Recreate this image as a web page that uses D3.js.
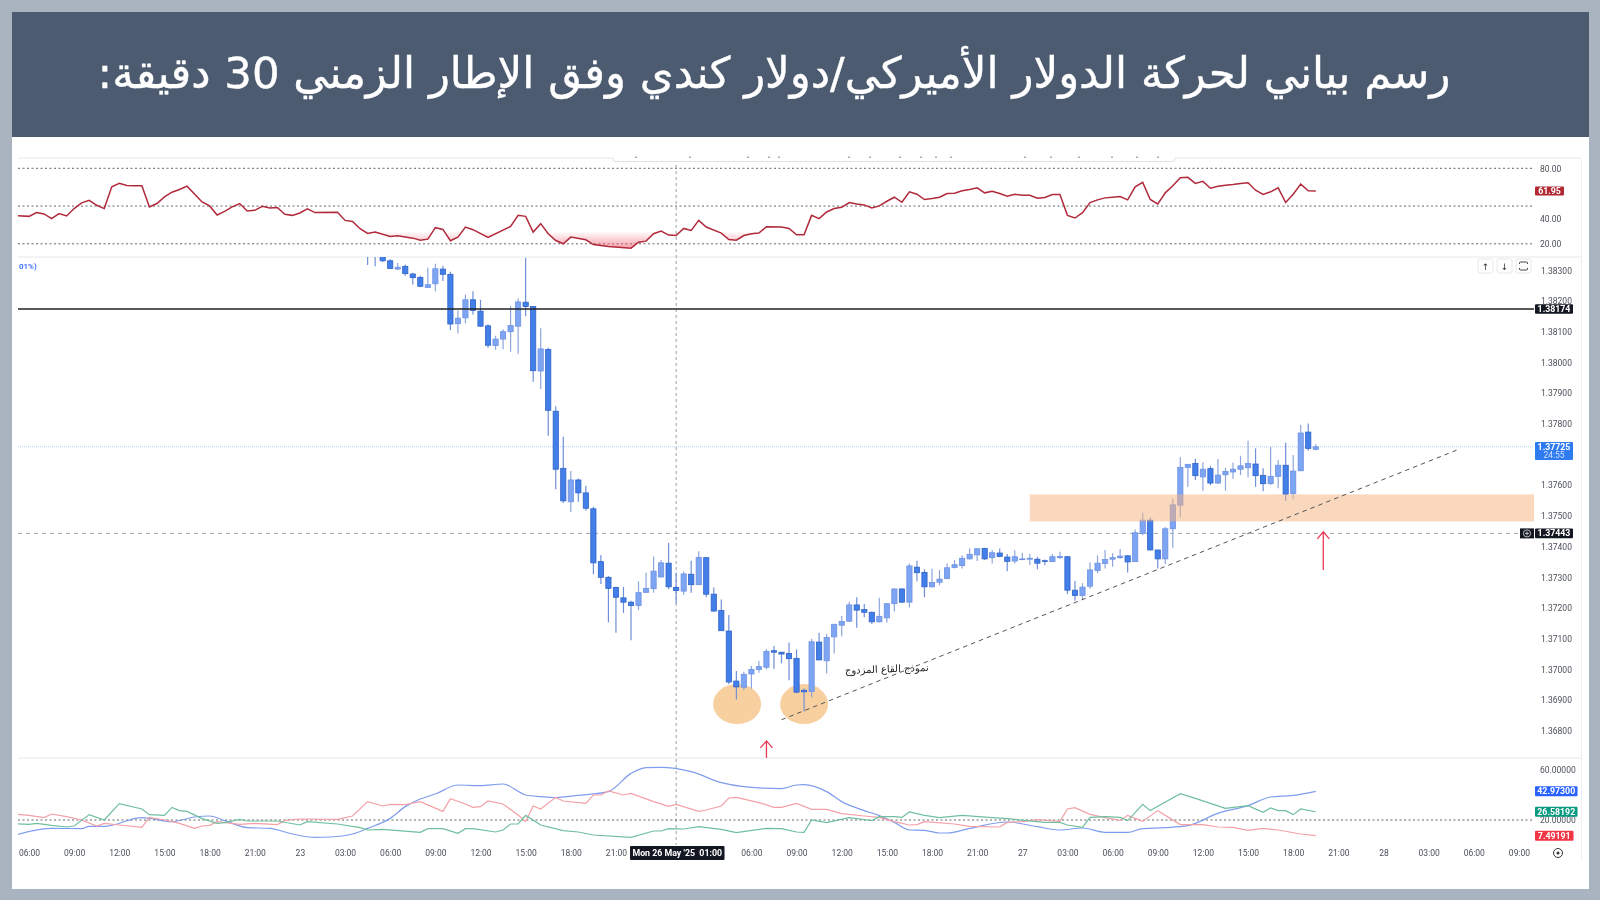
<!DOCTYPE html>
<html lang="ar"><head><meta charset="utf-8">
<script src="https://cdn.jsdelivr.net/npm/d3@7/dist/d3.min.js"></script>
<style>html,body{margin:0;padding:0;background:#aab4c0}svg{display:block;filter:blur(0.35px)}</style>
</head><body><svg id="c" width="1600" height="900"></svg>
<script>
const titleText = "رسم بياني لحركة الدولار الأميركي/دولار كندي وفق الإطار الزمني 30 دقيقة:";
const patternText = "نموذج القاع المزدوج";
const firstBar = 45;
// Prices in units of 0.00001, bar 45 onward
const opens = [138360,138355,138345,138331,138304,138313,138288,138277,138244,138256,138304,138287,138126,138145,138204,138167,138119,138055,138076,138100,138118,138196,138182,137972,138042,137841,137655,137546,137617,137575,137523,137351,137300,137267,137233,137219,137208,137251,137263,137301,137346,137267,137255,137310,137276,137364,137245,137192,137125,136962,136942,136985,137000,137007,137061,137056,137052,137036,136932,136928,137089,137028,137106,137144,137157,137210,137195,137186,137155,137168,137214,137262,137219,137333,137316,137269,137284,137296,137332,137338,137360,137373,137394,137364,137379,137366,137353,137358,137359,137359,137354,137351,137364,137367,137258,137241,137271,137322,137345,137359,137364,137370,137351,137443,137486,137389,137360,137458,137535,137658,137671,137627,137654,137607,137634,137643,137652,137657,137669,137632,137605,137629,137665,137573,137647,137773,137717];
const closes = [138350,138348,138331,138306,138310,138289,138276,138248,138253,138305,138287,138125,138144,138204,138169,138118,138056,138076,138100,138120,138197,138182,137973,138044,137844,137652,137549,137617,137575,137525,137347,137300,137264,137235,137219,137208,137250,137264,137320,137347,137269,137257,137311,137276,137365,137245,137190,137126,136959,136943,136984,137000,137009,137059,137056,137050,137035,136926,136927,137090,137031,137104,137147,137156,137210,137193,137186,137155,137173,137214,137262,137219,137337,137315,137269,137283,137294,137331,137341,137362,137375,137393,137360,137380,137368,137352,137367,137360,137362,137346,137352,137367,137368,137258,137241,137268,137324,137346,137358,137364,137369,137350,137445,137486,137389,137360,137458,137536,137658,137668,137631,137652,137607,137633,137645,137652,137663,137671,137631,137605,137629,137665,137571,137646,137770,137720,137725];
const highs = [138380,138370,138350,138336,138324,138319,138292,138282,138308,138321,138315,138295,138169,138221,138232,138204,138124,138087,138108,138184,138208,138341,138183,138111,138048,137857,137758,137646,137622,137598,137530,137373,137304,137269,137269,137224,137287,137315,137368,137356,137412,137315,137319,137354,137385,137365,137267,137228,137177,136995,136992,137011,137027,137066,137076,137057,137088,137065,136938,137100,137119,137115,137148,137174,137220,137235,137213,137189,137233,137215,137264,137264,137345,137354,137326,137328,137324,137345,137356,137372,137394,137394,137396,137389,137394,137376,137388,137380,137376,137367,137358,137376,137383,137369,137288,137281,137349,137371,137389,137378,137392,137372,137456,137510,137495,137389,137464,137557,137691,137669,137686,137675,137663,137685,137657,137674,137696,137745,137720,137655,137725,137682,137738,137698,137796,137801,137733];
const lows = [138317,138313,138327,138304,138300,138282,138254,138245,138242,138232,138265,138105,138094,138127,138156,138116,138048,138041,138043,138035,138028,138150,137937,137913,137761,137587,137542,137513,137546,137517,137310,137278,137153,137119,137184,137095,137193,137250,137250,137300,137261,137215,137243,137250,137275,137235,137189,137126,136952,136902,136933,136938,136989,137000,137002,137020,136965,136922,136863,136909,137030,136987,137052,137108,137155,137136,137170,137148,137153,137152,137189,137217,137202,137287,137235,137267,137274,137294,137329,137329,137358,137353,137356,137345,137365,137320,137345,137356,137340,137326,137339,137350,137360,137245,137224,137226,137263,137313,137329,137334,137360,137316,137350,137437,137388,137329,137343,137396,137495,137595,137617,137582,137600,137604,137582,137621,137633,137625,137595,137580,137601,137590,137549,137554,137647,137712,137714];

const rsiBars = [-2,0,1,2,3,4,5,6,7,8,9,10,11,12,13,14,15,16,17,18,19,20,21,23,24,25,26,27,28,29,30,31,32,33,34,35,36,37,38,41,42,43,44,45,46,48,49,51,52,53,54,55,56,57,58,59,61,64,65,66,67,68,69,70,71,72,74,75,77,80,81,82,83,84,85,86,87,88,89,90,92,93,94,95,96,97,98,100,101,102,103,104,105,106,107,108,109,110,111,112,113,114,115,116,117,118,119,120,121,122,123,124,125,126,127,128,129,130,131,132,133,134,135,136,137,138,139,140,141,142,143,144,145,146,147,148,149,150,151,152,153,154,155,156,157,158,159,160,161,162,163,164,165,166,167,168,169,170,171];
const rsiVals = [42.6,41.8,44.8,43.7,40,44,42.1,48,52.5,54.6,50.6,48,65.3,68,66.4,66.2,66.1,49.3,52,57.3,61,63.2,65.8,53.3,50.1,42.9,45.8,49.3,52,46.1,46.6,49.8,48.5,48.8,43.4,42.6,44.5,47.7,44.8,45,38.6,37.8,32,28.2,29.3,25.8,26.4,24.5,22.9,23.7,32.8,31.4,22.4,25.3,33.3,31.2,25,33.8,42.6,41.8,29.3,36,28,22.6,20,25.3,23.2,19.4,17.8,16.5,21.3,22.1,28,30.1,26.9,26.6,32.2,30.6,38.6,33.3,28.5,23.4,22.9,26.6,28,28.5,33.6,33.3,32.2,27.2,27.2,42.6,40,45.3,48,49,52.8,51.7,50.9,48.5,50.1,53.8,57,53,61.3,59.4,55.2,56,57,60,60.2,62.1,63.2,64.5,60.5,61.8,60,57.8,59.4,58.6,58.6,56.2,56.8,59.2,59.2,42.6,40.5,44.8,52.8,54.9,56.5,57,57.6,54.9,65.3,68.8,55.2,51.7,60.5,66.1,72.5,72.8,68,69.6,64.2,65.8,66.6,67.2,68,68.5,62.6,59.2,61.3,64.5,52.8,59.4,67.4,62.1,62];

const adxBars = [-2,3,7,8,10,15,19,22,24,26,29,32,35,38,40,43,45,48,50,52,54,57,60,63,66,68,70,73,77,80,82,84,88,92,95,100,102,103,106,108,111,113,115,117,119,121,122,125,130,134,137,140,143,146,148,151,154,158,162,165,168,171];
const adxVals = [7.7,13.3,13.1,14.9,14.9,21.9,18.7,22.4,23.2,19.5,13.9,13.3,8.8,6.1,6.4,8.8,13.3,21.3,30.7,36.8,40.8,48,47.5,48.8,40,38.7,37.9,39.7,42.7,57.3,61.9,62.1,58.7,49.9,46.7,45.1,48,48.3,42.7,34.7,27.5,23.5,18.1,12,11.7,9.6,9.6,13.3,18.4,14.7,12,13.6,10.1,10.1,13.1,13.9,15.5,25.3,31.5,38.4,39.7,42.97];
const minusBars = [-2,0,2,3,5,7,9,10,12,15,16,18,20,22,23,24,25,28,30,33,34,36,41,43,45,47,48,50,52,55,56,58,59,60,61,63,65,66,67,68,70,71,74,75,76,77,79,80,83,85,86,89,90,92,93,94,97,99,100,102,104,106,108,111,113,115,117,118,119,123,125,129,130,132,134,137,138,139,141,143,145,146,148,150,153,156,158,160,162,164,166,169,171];
const minusVals = [24.8,23.7,21.9,24.8,22.7,20,15.2,17.3,16,14.1,22.1,20,17.3,13.3,15.2,15.7,18.7,16.5,17.3,16.3,19.7,20.8,20.5,23.2,34.7,31.2,32.5,32.3,34.7,26.9,37.1,32.8,30.1,30.7,35.2,32.8,24,18.7,31.2,28.8,38.1,35.2,33.3,40,40,43.2,40,41.3,34.7,30.9,32.5,26.9,28,31.2,37.6,38.1,33.9,30.1,30.1,33.3,28.5,28.5,25.1,23.2,22.1,18.7,16,16.3,18.7,16.8,14.9,14.4,18.1,18.7,20.3,18.9,28.8,29.9,24.5,21.9,19.7,23.7,18.9,27.5,16.3,16.3,14.4,14.1,11.7,13.3,12,8.8,7.49];
const plusBars = [-2,0,1,3,5,6,8,10,12,15,16,18,19,20,21,23,25,26,28,29,33,36,37,41,44,45,47,52,53,55,57,58,59,62,63,64,65,66,68,71,73,75,80,83,84,85,87,89,92,94,98,100,102,103,104,106,109,112,113,115,116,117,119,121,124,128,130,135,137,138,140,141,143,145,146,148,149,153,155,157,159,162,164,165,166,167,168,169,171];
const plusVals = [17.1,16.5,17.3,15.7,14.4,15.2,24.3,20,33.1,28.8,24.3,23.7,30.1,27.5,26.9,21.1,17.3,17.9,20.5,19.2,19.2,16,18.7,16.8,13.9,12,12.5,10.1,13.1,13.1,9.3,13.1,13.1,10.4,12,16.8,16.8,23.7,16,11.5,10.4,8,6.1,11.2,11.2,13.1,12.8,14.7,12.5,9.9,13.3,13.1,10.4,10.1,20,17.9,21.9,19.5,22.7,22.7,22.1,26.4,23.7,21.9,23.7,21.9,21.1,18.1,18.1,16,14.1,22.1,22.7,22.1,19.5,32.5,27.5,41.1,37.3,33.3,29.3,31.5,26.1,29.6,27.5,27.5,24.3,28.8,26.58];

const priceTicks = [138300,138200,138100,138000,137900,137800,137600,137500,137400,137300,137200,137100,137000,136900,136800];
const rsiLevels = [80,50,20];
const rsiTicks = [80,40,20];
const dmiTicks = [60,20];
const timeBars = [0,6,12,18,24,30,36,42,48,54,60,66,72,78,96,102,108,114,120,126,132,138,144,150,156,162,168,174,180,186,192,198];
const timeLabels = ["06:00","09:00","12:00","15:00","18:00","21:00","23","03:00","06:00","09:00","12:00","15:00","18:00","21:00","06:00","09:00","12:00","15:00","18:00","21:00","27","03:00","06:00","09:00","12:00","15:00","18:00","21:00","28","03:00","06:00","09:00"];
const crossBar = 86, crossLabel = "Mon 26 May '25  01:00";
const blackLevel = 138174, lastPrice = 137725, dashLevel = 137443, countdown = "24:55";
const zoneBars = [133, 200], zonePrices = [137570, 137482];
const trendBars = [100, 189.7], trendPrices = [136836, 137714];
const circleBars = [94.1, 103], circlePrices = [136887, 136887];
const arrowBars = [98, 172], arrowFrom = [136711, 137324], arrowTo = [136767, 137448];
const patternBar = 114, patternPrice = 137000;
const rsiLast = 61.95;
const dmiBadges = [["42.97300", 42.97, "#2962ff"], ["26.58192", 26.58, "#089981"], ["7.49191", 7.49, "#f23645"]];
const toolbarSpecks = [635,689,747,768,778,848,869,899,920,935,950,1024,1050,1078,1111,1136,1157];

const W = 1600, H = 900, L = 18, R = 1534;
const ui = "Roboto, 'Noto Sans', sans-serif", ar = "'DejaVu Sans', sans-serif";
const x = d3.scaleLinear().domain([0, 6]).range([29, 74.15]);
const y = d3.scaleLinear().domain([138300, 137400]).range([270.3, 546.6]);
const yR = d3.scaleLinear().domain([80, 20]).range([168.3, 243.8]);
const yD = d3.scaleLinear().domain([60, 20]).range([770, 820]);
const svg = d3.select("#c");

svg.append("rect").attr("width", W).attr("height", H).attr("fill", "#aab4c0");
svg.append("rect").attr("x", 12).attr("y", 137).attr("width", 1577).attr("height", 752).attr("fill", "#fff");
svg.append("rect").attr("x", 12).attr("y", 12).attr("width", 1577).attr("height", 125).attr("fill", "#4d5b71");
svg.append("text").attr("x", 774).attr("y", 88).attr("text-anchor", "middle").attr("direction", "rtl")
  .attr("font-family", ar).attr("font-size", 43.4).attr("fill", "#fff").attr("stroke", "#fff").attr("stroke-width", .4).text(titleText);

const defs = svg.append("defs");
defs.append("clipPath").attr("id", "main").append("rect").attr("x", L).attr("y", 257).attr("width", R - L).attr("height", 501);
defs.append("clipPath").attr("id", "full").append("rect").attr("x", L).attr("y", 160).attr("width", R - L).attr("height", 680);
defs.append("clipPath").attr("id", "os").append("rect").attr("x", L).attr("y", yR(30)).attr("width", R - L).attr("height", 40);
const gr = defs.append("linearGradient").attr("id", "osg").attr("gradientUnits", "userSpaceOnUse").attr("x1", 0).attr("x2", 0).attr("y1", yR(30)).attr("y2", yR(18));
gr.append("stop").attr("offset", 0).attr("stop-color", "#f0566b").attr("stop-opacity", 0);
gr.append("stop").attr("offset", 1).attr("stop-color", "#f0566b").attr("stop-opacity", .5);

// pane separators and the cut-off toolbar at the top of the RSI pane
[158, 257, 758].forEach(v => svg.append("line").attr("x1", L).attr("x2", 1581).attr("y1", v).attr("y2", v).attr("stroke", "#e6e8ec"));
svg.append("line").attr("x1", 1581.5).attr("x2", 1581.5).attr("y1", 158).attr("y2", 860).attr("stroke", "#eceef1");
svg.append("rect").attr("x", 613).attr("y", 156).attr("width", 562).attr("height", 5).attr("fill", "#fff");
svg.append("path").attr("fill", "none").attr("stroke", "#dfe1e5").attr("d", "M613,158v1.5q0,2 2,2H1173q2,0 2,-2V158");
svg.selectAll(".sp").data(toolbarSpecks).join("rect").attr("x", d => d).attr("y", 156.5).attr("width", 2).attr("height", 1.5).attr("fill", "#a8abb2");

// RSI pane
svg.selectAll(".rl").data(rsiLevels).join("line").attr("x1", L).attr("x2", R - 2).attr("y1", d => yR(d)).attr("y2", d => yR(d))
  .attr("stroke", "#666").attr("stroke-dasharray", "2 2.5");
const rsiPts = rsiBars.map((b, i) => [b, rsiVals[i]]);
svg.append("path").attr("clip-path", "url(#os)").attr("fill", "url(#osg)")
  .attr("d", d3.area().x(d => x(d[0])).y0(yR(30)).y1(d => yR(d[1]))(rsiPts));
svg.append("g").attr("clip-path", "url(#full)").append("path").attr("fill", "none").attr("stroke", "#b02a3c").attr("stroke-width", 1.5)
  .attr("d", d3.line().x(d => x(d[0])).y(d => yR(d[1]))(rsiPts));

// Reference lines
svg.append("line").attr("x1", L).attr("x2", R).attr("y1", y(lastPrice)).attr("y2", y(lastPrice)).attr("stroke", "#b9cdf5").attr("stroke-dasharray", "1 1");
svg.append("line").attr("x1", L).attr("x2", 1520).attr("y1", y(dashLevel)).attr("y2", y(dashLevel)).attr("stroke", "#9aa0a8").attr("stroke-dasharray", "4 4");
svg.append("line").attr("x1", x(crossBar)).attr("x2", x(crossBar)).attr("y1", 165).attr("y2", 845).attr("stroke", "#9aa0a8").attr("stroke-dasharray", "3 3");

// Circles below candles
const mainG = svg.append("g").attr("clip-path", "url(#main)");
mainG.selectAll(".ci").data(circleBars).join("ellipse").attr("cx", d => x(d)).attr("cy", (d, i) => y(circlePrices[i]))
  .attr("rx", 24).attr("ry", 20).attr("fill", "#f8d0a0");

// Candles
const idx = opens.map((_, i) => i);
const cX = i => x(firstBar + i), isUp = i => closes[i] >= opens[i];
mainG.selectAll(".w").data(idx).join("line").attr("x1", cX).attr("x2", cX).attr("y1", i => y(highs[i])).attr("y2", i => y(lows[i]))
  .attr("stroke", i => isUp(i) ? "#8ea6dc" : "#6f8fd6").attr("stroke-width", 1.2);
mainG.selectAll(".b").data(idx).join("rect").attr("x", i => cX(i) - 2.6).attr("width", 5.2)
  .attr("y", i => y(Math.max(opens[i], closes[i])))
  .attr("height", i => Math.max(0.8, Math.abs(y(opens[i]) - y(closes[i]))))
  .attr("fill", i => isUp(i) ? "#7ea5f3" : "#437fe9").attr("stroke", i => isUp(i) ? "#6d92e2" : "#2f62c8").attr("stroke-width", .8);

// Zone, level, trend
mainG.append("rect").attr("x", x(zoneBars[0])).attr("width", x(zoneBars[1]) - x(zoneBars[0]))
  .attr("y", y(zonePrices[0])).attr("height", y(zonePrices[1]) - y(zonePrices[0])).attr("fill", "#f6b27c").attr("opacity", .5);
svg.append("line").attr("x1", L).attr("x2", R).attr("y1", y(blackLevel)).attr("y2", y(blackLevel)).attr("stroke", "#222").attr("stroke-width", 1.4);
svg.append("line").attr("x1", x(trendBars[0])).attr("y1", y(trendPrices[0])).attr("x2", x(trendBars[1])).attr("y2", y(trendPrices[1]))
  .attr("stroke", "#555").attr("stroke-dasharray", "4.5 4");

// Arrows
arrowBars.forEach((b, i) => {
  const px = x(b), a = y(arrowFrom[i]), t = y(arrowTo[i]);
  svg.append("path").attr("fill", "none").attr("stroke", "#ea3a55").attr("stroke-width", 1.3)
    .attr("d", `M${px},${a}L${px},${t}M${px - 6},${t + 7}L${px},${t}L${px + 6},${t + 7}`);
});

// Pattern text
svg.append("text").attr("transform", `translate(${x(patternBar)},${y(patternPrice) + 3}) rotate(-2)`)
  .attr("text-anchor", "middle").attr("direction", "rtl").attr("font-family", ar).attr("font-size", 10).attr("fill", "#222").text(patternText);

// Blue truncated legend text
svg.append("text").attr("x", 19).attr("y", 268.5).attr("font-family", ui).attr("font-size", 8).attr("font-weight", 500).attr("fill", "#2962ff").text("01%)");

// DMI
svg.append("line").attr("x1", L).attr("x2", R - 2).attr("y1", yD(20)).attr("y2", yD(20)).attr("stroke", "#666").attr("stroke-dasharray", "2 2.5");
const dmiG = svg.append("g").attr("clip-path", "url(#full)");
[[adxBars, adxVals, "#7f9ded", d3.curveMonotoneX], [minusBars, minusVals, "#f3a0a6", d3.curveLinear], [plusBars, plusVals, "#6fbf9f", d3.curveLinear]].forEach(([bs, vs, col, cv]) => {
  dmiG.append("path").attr("fill", "none").attr("stroke", col).attr("stroke-width", 1.2)
    .attr("d", d3.line().curve(cv).x(d => x(d[0])).y(d => yD(d[1]))(bs.map((b, i) => [b, vs[i]])));
});

// Axes
function styleAxis(g) {
  g.select(".domain").remove();
  g.selectAll("line").remove();
  g.selectAll("text").attr("font-family", ui).attr("font-size", 8.5).attr("fill", "#4a4f59");
}
svg.append("g").attr("transform", "translate(1541,0)")
  .call(d3.axisRight(y).tickValues(priceTicks).tickSize(0).tickPadding(0).tickFormat(d => (d / 1e5).toFixed(5))).call(styleAxis);
svg.append("g").attr("transform", "translate(1540,0)")
  .call(d3.axisRight(yR).tickValues(rsiTicks).tickSize(0).tickPadding(0).tickFormat(d => d.toFixed(2))).call(styleAxis);
svg.append("g").attr("transform", "translate(1540,0)")
  .call(d3.axisRight(yD).tickValues(dmiTicks).tickSize(0).tickPadding(0).tickFormat(d => d.toFixed(5))).call(styleAxis);
svg.append("g").attr("transform", "translate(0,849.5)")
  .call(d3.axisBottom(x).tickValues(timeBars).tickSize(0).tickPadding(0).tickFormat((d, i) => timeLabels[i])).call(styleAxis);

// Badges
function badge(bx, by, bw, bh, col, label, sub) {
  svg.append("rect").attr("x", bx).attr("y", by).attr("width", bw).attr("height", bh).attr("rx", 1).attr("fill", col);
  svg.append("text").attr("x", bx + bw / 2).attr("y", by + (sub ? 7.5 : bh / 2 + 3.1)).attr("text-anchor", "middle").style("white-space", "pre")
    .attr("font-family", ui).attr("font-size", 8.8).attr("font-weight", 700).attr("fill", "#fff").text(label);
  if (sub) svg.append("text").attr("x", bx + bw / 2).attr("y", by + 15.5).attr("text-anchor", "middle")
    .attr("font-family", ui).attr("font-size", 8.5).attr("fill", "#cfe0ff").text(sub);
}
badge(1535, y(blackLevel) - 4.8, 38, 9.6, "#131722", (blackLevel / 1e5).toFixed(5));
badge(1535, y(lastPrice) - 4.8, 38, 18, "#2f7bf0", (lastPrice / 1e5).toFixed(5), countdown);
badge(1535, y(dashLevel) - 4.8, 38, 9.6, "#131722", (dashLevel / 1e5).toFixed(5));
svg.append("rect").attr("x", 1520).attr("y", y(dashLevel) - 5).attr("width", 14).attr("height", 10).attr("fill", "#131722");
svg.append("circle").attr("cx", 1527).attr("cy", y(dashLevel)).attr("r", 3.6).attr("fill", "none").attr("stroke", "#fff").attr("stroke-width", .7);
svg.append("path").attr("stroke", "#fff").attr("stroke-width", .7).attr("d", `M1525,${y(dashLevel)}h4M1527,${y(dashLevel) - 2}v4`);
badge(1535, yR(rsiLast) - 4.5, 29, 9, "#b22833", rsiLast.toFixed(2));
dmiBadges.forEach(([t, v, c]) => badge(1535, yD(v) - 5, t.length > 7 ? 42.5 : 38.5, 10, c, t));
badge(630, 846, 94.5, 14, "#131722", crossLabel);

// Buttons
[[1478, "↑"], [1497, "↓"]].forEach(([bx, s]) => {
  svg.append("rect").attr("x", bx).attr("y", 259).attr("width", 15).attr("height", 14).attr("rx", 2).attr("fill", "#fff").attr("stroke", "#e6e8ec");
  svg.append("text").attr("x", bx + 7.5).attr("y", 269.5).attr("text-anchor", "middle").attr("font-family", "'DejaVu Sans'").attr("font-size", 9).attr("fill", "#333").text(s);
});
svg.append("rect").attr("x", 1516).attr("y", 259).attr("width", 15).attr("height", 14).attr("rx", 2).attr("fill", "#fff").attr("stroke", "#e6e8ec");
svg.append("path").attr("fill", "none").attr("stroke", "#333").attr("stroke-width", .9)
  .attr("d", "M1519.5,264v-1q0,-1 1,-1h6q1,0 1,1v1M1519.5,268v1q0,1 1,1h6q1,0 1,-1v-1");
// Settings icon
svg.append("circle").attr("cx", 1558).attr("cy", 853).attr("r", 4.5).attr("fill", "none").attr("stroke", "#333");
svg.append("circle").attr("cx", 1558).attr("cy", 853).attr("r", 1.5).attr("fill", "#333");
</script></body></html>
